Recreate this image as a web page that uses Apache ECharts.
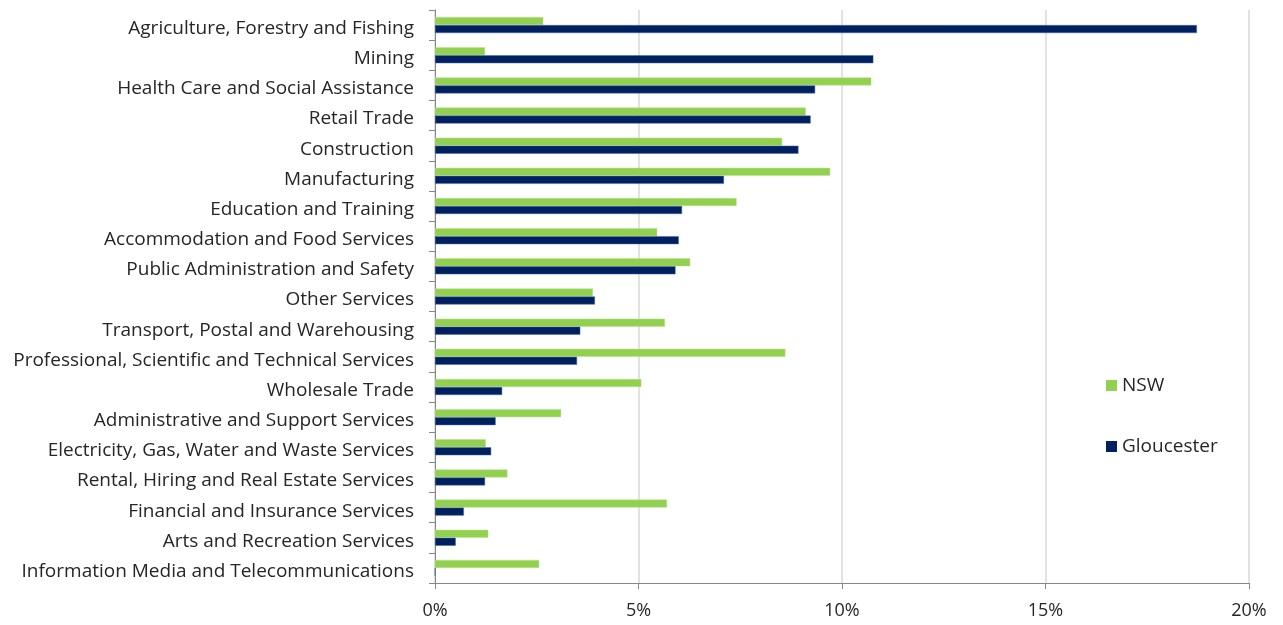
<!DOCTYPE html>
<html>
<head>
<meta charset="utf-8">
<script src="https://cdn.jsdelivr.net/npm/echarts@6/dist/echarts.min.js"></script>
<style>
  html, body { margin: 0; padding: 0; background: #ffffff; }
  #chart { width: 1283px; height: 625px; }
</style>
</head>
<body>
<div id="chart"></div>
<script>
// Industries, listed top to bottom
const industries = [
  'Agriculture, Forestry and Fishing',
  'Mining',
  'Health Care and Social Assistance',
  'Retail Trade',
  'Construction',
  'Manufacturing',
  'Education and Training',
  'Accommodation and Food Services',
  'Public Administration and Safety',
  'Other Services',
  'Transport, Postal and Warehousing',
  'Professional, Scientific and Technical Services',
  'Wholesale Trade',
  'Administrative and Support Services',
  'Electricity, Gas, Water and Waste Services',
  'Rental, Hiring and Real Estate Services',
  'Financial and Insurance Services',
  'Arts and Recreation Services',
  'Information Media and Telecommunications'
];

// Share of employment (%)
const nswShare = [2.66, 1.23, 10.72, 9.11, 8.53, 9.71, 7.41, 5.46, 6.27, 3.88, 5.65, 8.61, 5.07, 3.10, 1.25, 1.78, 5.70, 1.31, 2.56];
const gloucesterShare = [18.72, 10.77, 9.34, 9.23, 8.93, 7.10, 6.07, 5.99, 5.91, 3.93, 3.57, 3.49, 1.65, 1.49, 1.38, 1.23, 0.71, 0.51, 0];

const xTicks = { min: 0, max: 20, step: 5 };

const FONT = 'Open Sans';
const TEXT = '#262626';

const chart = echarts.init(document.getElementById('chart'), null, { renderer: 'canvas' });

chart.setOption({
  backgroundColor: '#ffffff',
  animation: false,
  textStyle: { fontFamily: FONT },
  grid: { left: 435, right: 34, top: 10, bottom: 42, containLabel: false },
  legend: {
    orient: 'vertical',
    left: 1101,
    top: 371,
    itemWidth: 11,
    itemHeight: 11,
    itemGap: 42,
    icon: 'rect',
    itemStyle: { borderWidth: 0 },
    textStyle: { fontFamily: FONT, fontSize: 19, color: TEXT },
    data: ['NSW', 'Gloucester']
  },
  xAxis: {
    type: 'value',
    min: xTicks.min,
    max: xTicks.max,
    interval: xTicks.step,
    axisLine: { show: true, lineStyle: { color: '#868686', width: 1 } },
    axisTick: { show: true, length: 6, lineStyle: { color: '#868686' } },
    axisLabel: {
      formatter: v => v + '%',
      fontFamily: FONT, fontSize: 18, color: TEXT, margin: 19
    },
    splitLine: { show: true, lineStyle: { color: '#d9d9d9', width: 1.5 } }
  },
  yAxis: {
    type: 'category',
    data: industries,
    inverse: true,
    axisLine: { show: true, lineStyle: { color: '#868686', width: 1 } },
    axisTick: { show: true, length: 6, lineStyle: { color: '#868686' } },
    axisLabel: {
      margin: 21,
      formatter: v => '{name|' + v + '}',
      rich: {
        name: { fontFamily: FONT, fontSize: 19, color: TEXT, padding: [7, 0, 0, 0] }
      }
    }
  },
  series: [
    {
      name: 'NSW',
      type: 'bar',
      data: nswShare,
      barWidth: 8,
      barGap: '0%',
      itemStyle: { color: '#92d050', borderColor: '#b9e38e', borderWidth: 0.5 }
    },
    {
      name: 'Gloucester',
      type: 'bar',
      data: gloucesterShare,
      barWidth: 8,
      barGap: '0%',
      itemStyle: { color: '#002060', borderColor: '#4a6aa0', borderWidth: 0.5 }
    }
  ]
});
</script>
</body>
</html>
